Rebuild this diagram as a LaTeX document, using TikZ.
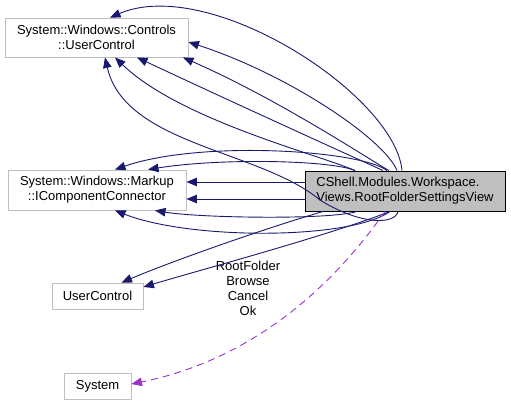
\documentclass[tikz,border=0pt]{standalone}
\usepackage{fontspec}
\setmainfont{Liberation Sans}
\usetikzlibrary{arrows.meta}
\definecolor{dxedge}{RGB}{25,25,112}
\definecolor{dxdep}{RGB}{154,50,205}
\definecolor{dxframe}{RGB}{191,191,191}

\begin{document}
\begin{tikzpicture}[
  x=1pt, y=-1pt,
  font=\fontsize{13}{15}\selectfont,
  edge/.style={-{Triangle[length=10.5pt,width=8.5pt]}, line width=0.9pt, draw=dxedge},
  uses/.style={-{Triangle[length=10.5pt,width=8.5pt]}, line width=0.9pt, draw=dxdep, dash pattern=on 7pt off 5pt},
  cls/.style={draw=dxframe, fill=white, line width=0.9pt, inner sep=0pt, align=center},
  focus/.style={draw=black, fill=dxframe, line width=0.9pt, inner sep=0pt, align=left}
]
\useasboundingbox (0,0) rectangle (511,405);
\node[cls, minimum width=183pt, minimum height=39pt] (uc) at (96.5,37.5) {System::Windows::Controls\\::UserControl};
\node[cls, minimum width=178pt, minimum height=40pt] (ic) at (97,190) {System::Windows::Markup\\::IComponentConnector};
\node[focus, minimum width=200pt, minimum height=40pt] (main) at (405,191) {CShell.Modules.Workspace.\\Views.RootFolderSettingsView};
\node[cls, minimum width=91pt, minimum height=26pt] (ucl) at (97.5,296) {UserControl};
\node[cls, minimum width=67pt, minimum height=26pt] (sys) at (97.5,386) {System};
\node[align=center, inner sep=0pt] (lbl) at (248,288) {RootFolder\\Browse\\Cancel\\Ok};

\draw[edge] ([xshift=-3pt]main.north) .. controls (395,95) and (210,-25) .. ([xshift=13.5pt]uc.north);
\draw[edge] ([xshift=-8pt]main.north) .. controls (385,140) and (290,75) .. ([yshift=-4.5pt]uc.east);
\draw[edge] ([xshift=-16pt]main.north) .. controls (370,160) and (280,100) .. ([xshift=86.5pt]uc.south);
\draw[edge] ([xshift=-22pt]main.north) .. controls (360,160) and (260,115) .. ([xshift=40.5pt]uc.south);
\draw[edge] ([xshift=-50pt]main.north) .. controls (320,155) and (180,120) .. ([xshift=18.5pt]uc.south);
\draw[edge] ([xshift=-7pt]main.south) .. controls (395,225) and (360,225) .. (320,200)
  .. controls (260,150) and (125,145) .. ([xshift=8.5pt]uc.south);

\draw[edge] ([xshift=-18pt]main.north) .. controls (360,150) and (200,140) .. ([xshift=18pt]ic.north);
\draw[edge] ([xshift=-50pt]main.north) .. controls (330,160) and (220,158) .. ([xshift=51pt]ic.north);
\draw[edge] ([yshift=9pt]main.west) -- ([yshift=8pt]ic.east);
\draw[edge] ([yshift=-8pt]main.west) -- ([yshift=-9pt]ic.east);
\draw[edge] ([xshift=-48pt]main.south) .. controls (330,220) and (200,218) .. ([xshift=58pt]ic.south);
\draw[edge] ([xshift=-15pt]main.south) .. controls (350,240) and (190,240) .. ([xshift=18pt]ic.south);

\draw[edge] ([xshift=-82pt]main.south) .. controls (260,230) and (170,262) .. ([xshift=24pt]ucl.north);
\draw[edge] ([xshift=-15pt]main.south) .. controls (330,235) and (200,270) .. ([yshift=9pt]ucl.east);

\draw[uses] ([xshift=-20pt]main.south) .. controls (330,290) and (250,360) .. ([yshift=2pt]sys.east);
\end{tikzpicture}
\end{document}
